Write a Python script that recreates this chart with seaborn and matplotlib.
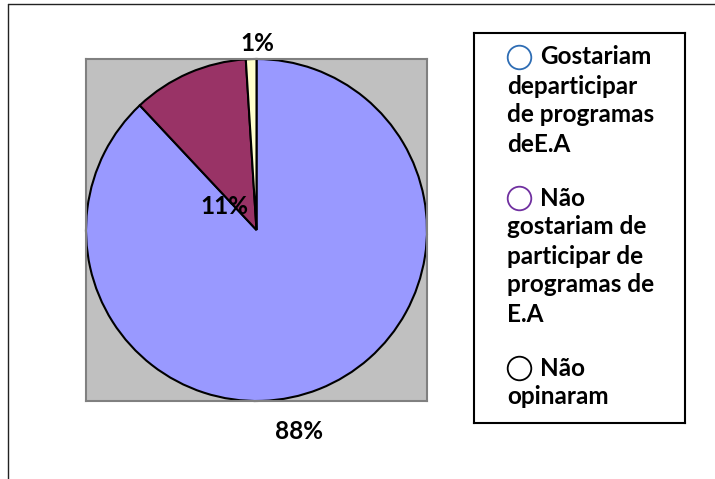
import numpy as np
import matplotlib.pyplot as plt
import matplotlib.lines as mlines
import seaborn as sns

# data
categories = [
    "Gostariam departicipar de programas deE.A",
    "Não gostariam de participar de programas de E.A",
    "Não opinaram",
]
shares = [88, 11, 1]
pct_labels = ["88%", "11%", "1%"]
legend_lines = [
    ["Gostariam", "departicipar", "de programas", "deE.A"],
    ["Não", "gostariam de", "participar de", "programas de", "E.A"],
    ["Não", "opinaram"],
]

wedge_colors = ["#9999FF", "#993366", "#FFFFCC"]
marker_edges = ["#2E6DB4", "#7030A0", "#000000"]
# label positions in pie radius units (Excel-style placement)
label_pos = [(0.25, -1.18), (-0.19, 0.135), (0.005, 1.09)]

sns.set_style("white")
plt.rcParams["font.family"] = ["Lato", "DejaVu Sans"]

W, H = 715, 479
fig = plt.figure(figsize=(W / 100, H / 100), dpi=100)


def fig_box(x0, y0, x1, y1):
    return [x0 / W, 1 - y1 / H, (x1 - x0) / W, (y1 - y0) / H]


# outer frame (top and left only)
fig.add_artist(mlines.Line2D([8 / W, 1], [1 - 4 / H, 1 - 4 / H],
                             transform=fig.transFigure, color="#222222", lw=1))
fig.add_artist(mlines.Line2D([8 / W, 8 / W], [0, 1 - 4 / H],
                             transform=fig.transFigure, color="#222222", lw=1))

# pie
ax = fig.add_axes(fig_box(86, 59, 427, 401))
ax.pie(
    shares,
    colors=wedge_colors,
    startangle=90,
    counterclock=False,
    radius=1.0,
    frame=True,
    wedgeprops=dict(edgecolor="black", linewidth=1.5),
)
ax.set_facecolor("#C0C0C0")
ax.patch.set_visible(True)
for s in ax.spines.values():
    s.set_visible(True)
    s.set_color("#808080")
    s.set_linewidth(1.5)
ax.set_xlim(-1.0, 1.0)
ax.set_ylim(-1.0, 1.0)
ax.set_aspect("auto")
ax.set_xticks([])
ax.set_yticks([])

for txt, (px, py) in zip(pct_labels, label_pos):
    ax.text(px, py, txt, ha="center", va="center", fontsize=17.5,
            fontweight="bold", color="black", clip_on=False)

# legend box
lax = fig.add_axes(fig_box(474, 33, 685, 423))
lax.set_xlim(0, 211)
lax.set_ylim(390, 0)
lax.set_xticks([])
lax.set_yticks([])
for s in lax.spines.values():
    s.set_visible(True)
    s.set_color("black")
    s.set_linewidth(1.5)

line_step, group_gap, y0 = 29, 25, 24
idx = 0
for g, (lines, edge) in enumerate(zip(legend_lines, marker_edges)):
    for k, line in enumerate(lines):
        y = y0 + line_step * idx + group_gap * g
        if k == 0:
            lax.plot([45], [y], marker="o", markersize=17, markerfacecolor="white",
                     markeredgecolor=edge, markeredgewidth=1.3, linestyle="none")
            x = 66
        else:
            x = 33
        lax.text(x, y, line, ha="left", va="center", fontsize=17.5,
                 fontweight="bold", color="black")
        idx += 1

fig.savefig("out.png", dpi=100)
